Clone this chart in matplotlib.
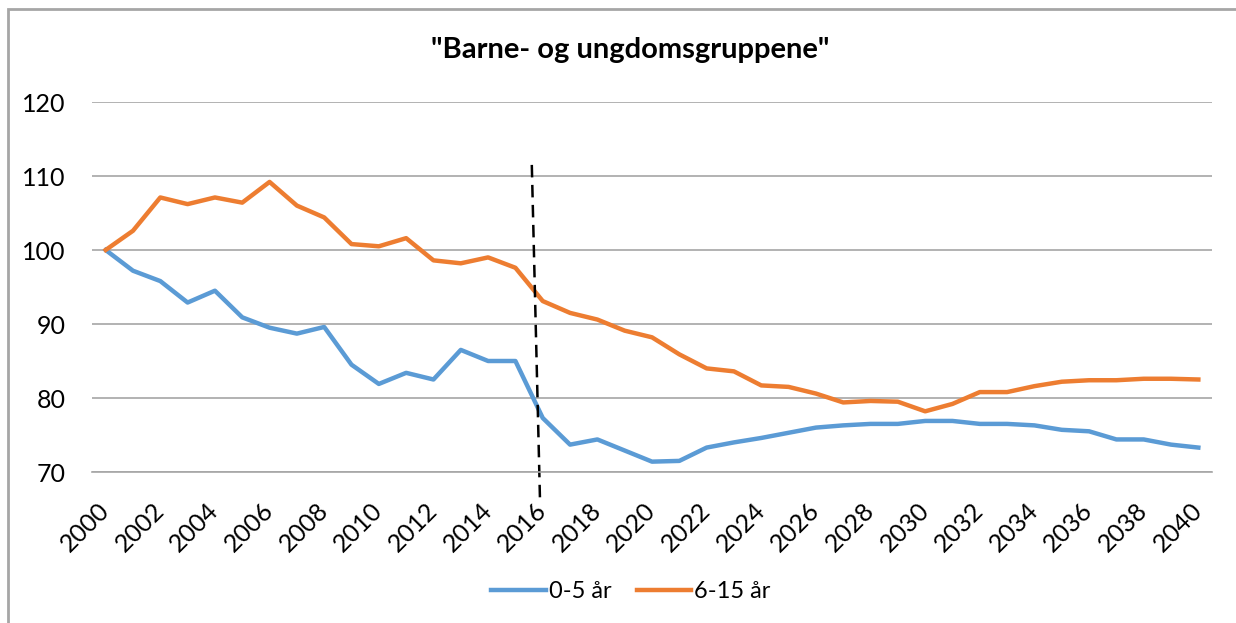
import matplotlib
matplotlib.use('Agg')
import matplotlib.pyplot as plt
import matplotlib.patches as patches


# data (index, 2000 = 100)
YEARS = list(range(2000, 2041))

AGE_0_5 = [100.0, 97.2, 95.8, 92.9, 94.5, 90.9, 89.5, 88.7, 89.6, 84.5,
           81.9, 83.4, 82.5, 86.5, 85.0, 85.0, 77.3, 73.7, 74.4, 72.9,
           71.4, 71.5, 73.3, 74.0, 74.6, 75.3, 76.0, 76.3, 76.5, 76.5,
           76.9, 76.9, 76.5, 76.5, 76.3, 75.7, 75.5, 74.4, 74.4, 73.7,
           73.3]

AGE_6_15 = [100.0, 102.6, 107.1, 106.2, 107.1, 106.4, 109.2, 106.0, 104.4, 100.8,
            100.5, 101.6, 98.6, 98.2, 99.0, 97.6, 93.1, 91.5, 90.6, 89.1,
            88.2, 85.9, 84.0, 83.6, 81.7, 81.5, 80.6, 79.4, 79.6, 79.5,
            78.2, 79.2, 80.8, 80.8, 81.6, 82.2, 82.4, 82.4, 82.6, 82.6,
            82.5]

SERIES_NAMES = ['0-5 år', '6-15 år']
TITLE = '"Barne- og ungdomsgruppene"'

# slanted dashed divider marking the start of the projection
DIVIDER_X = [2015.6, 2015.9]
DIVIDER_Y = [111.5, 66.2]

BLUE = '#5B9BD5'
ORANGE = '#ED7D31'
GRID = '#A6A6A6'

plt.rcParams['font.family'] = ['Lato', 'DejaVu Sans']

fig = plt.figure(figsize=(12.36, 6.23), dpi=100)
ax = fig.add_axes([92/1236, 1 - 472/623, (1212 - 92)/1236, (472 - 102)/623])

ax.plot(YEARS, AGE_0_5, color=BLUE, lw=3.2, label=SERIES_NAMES[0], solid_joinstyle='round')
ax.plot(YEARS, AGE_6_15, color=ORANGE, lw=3.2, label=SERIES_NAMES[1], solid_joinstyle='round')
ax.plot(DIVIDER_X, DIVIDER_Y, color='black', lw=1.8, ls=(0, (5, 3)), clip_on=False)

ax.set_xlim(1999.5, 2040.5)
ax.set_ylim(70, 120)
ax.set_yticks(range(70, 121, 10))
ax.set_xticks(YEARS[::2])
ax.set_xticklabels([str(y) for y in YEARS[::2]], rotation=45, ha='right',
                   rotation_mode='anchor', va='center', fontsize=18)
ax.tick_params(axis='x', length=0, pad=25)
ax.tick_params(axis='y', length=0, pad=19, labelsize=18)

ax.grid(axis='y', color=GRID, lw=1.2)
ax.set_axisbelow(True)
for side in ['left', 'right', 'top']:
    ax.spines[side].set_visible(False)
ax.spines['bottom'].set_color(GRID)
ax.spines['bottom'].set_linewidth(1.2)

fig.text(630/1236, 1 - 50/623, TITLE, ha='center', va='center', fontsize=21, fontweight='bold')

fig.legend(loc='center', bbox_to_anchor=(631/1236, 1 - 592/623), ncol=2, frameon=False,
           fontsize=17, handlelength=2.3, handletextpad=0.15, columnspacing=1.05)

# chart area border (top and left edges visible in the reference)
fig.patches.append(patches.Rectangle((8/1236, -0.1), 1.2, 1 - 9/623 + 0.1, transform=fig.transFigure,
                                     fill=False, edgecolor=GRID, lw=2))

fig.savefig('out.png', dpi=100)
